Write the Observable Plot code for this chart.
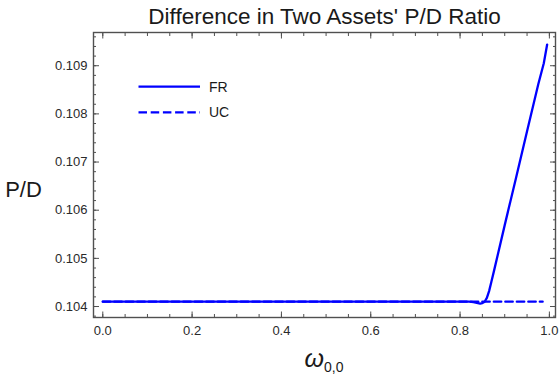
<!DOCTYPE html>
<html>
<head>
<meta charset="utf-8">
<script src="https://cdn.jsdelivr.net/npm/d3@7"></script>
<script src="https://cdn.jsdelivr.net/npm/@observablehq/plot@0.6"></script>
<style>
  html, body { margin: 0; padding: 0; background: #fff; }
  #chart { width: 560px; height: 376px; }
  svg { display: block; }
</style>
</head>
<body>
<div id="chart"></div>
<script>
// Price-dividend ratio of the two-asset economy vs. initial wealth share ω(0,0)
const omegaFR = [0, 0.1, 0.2, 0.3, 0.4, 0.5, 0.6, 0.7, 0.8, 0.82, 0.83, 0.84, 0.845, 0.85, 0.855, 0.86, 0.865, 0.87, 0.876, 0.9, 0.925, 0.95, 0.975, 0.9875, 0.995];
const pdFR    = [0.1041, 0.1041, 0.1041, 0.1041, 0.1041, 0.1041, 0.1041, 0.1041, 0.1041, 0.1041, 0.10409, 0.10407, 0.10406, 0.10407, 0.1041, 0.10418, 0.10432, 0.10451, 0.10474, 0.10569, 0.10666, 0.10764, 0.10861, 0.10905, 0.10944];

const omegaUC = [0, 0.2, 0.4, 0.6, 0.8, 0.985];
const pdUC    = [0.1041, 0.1041, 0.1041, 0.1041, 0.1041, 0.1041];

const xMajor = [0, 0.2, 0.4, 0.6, 0.8, 1.0];
const xMinor = d3.range(0, 1.001, 0.05);
const yMajor = [0.104, 0.105, 0.106, 0.107, 0.108, 0.109];
const yMinor = d3.range(0.1038, 0.10961, 0.0002);

const series = [
  {name: "FR", xs: omegaFR, ys: pdFR, dash: null},
  {name: "UC", xs: omegaUC, ys: pdUC, dash: "7.5,4"}
];

const rows = name => {
  const s = series.find(d => d.name === name);
  return s.xs.map((x, i) => ({omega: x, pd: s.ys[i]}));
};

const W = 560, H = 376;
const frameColor = "#505050";
const font = "'Liberation Sans', Arial, sans-serif";

const chart = Plot.plot({
  width: W,
  height: H,
  marginLeft: 93,
  marginRight: 5,
  marginTop: 32,
  marginBottom: 59,
  style: {fontFamily: font, fontSize: "13px", color: "#2a2a2a", background: "#fff"},
  x: {domain: [-0.0208, 1.0137]},
  y: {domain: [0.103772, 0.10969]},
  marks: [
    // inward ticks on all four sides
    Plot.axisX(xMinor, {anchor: "bottom", tickSize: -3, text: null, label: null, stroke: frameColor}),
    Plot.axisX(xMajor, {anchor: "bottom", tickSize: -5.5, tickPadding: 13.5, tickFormat: d3.format(".1f"), label: null, stroke: frameColor, fontSize: 13}),
    Plot.axisX(xMinor, {anchor: "top", tickSize: -3, text: null, label: null, stroke: frameColor}),
    Plot.axisX(xMajor, {anchor: "top", tickSize: -5.5, text: null, label: null, stroke: frameColor}),
    Plot.axisY(yMinor, {anchor: "left", tickSize: -3, text: null, label: null, stroke: frameColor}),
    Plot.axisY(yMajor, {anchor: "left", tickSize: -6, tickPadding: 12, tickFormat: d3.format(".3f"), label: null, stroke: frameColor, fontSize: 13}),
    Plot.axisY(yMinor, {anchor: "right", tickSize: -3, text: null, label: null, stroke: frameColor}),
    Plot.axisY(yMajor, {anchor: "right", tickSize: -6, text: null, label: null, stroke: frameColor}),
    Plot.frame({stroke: frameColor, strokeWidth: 1.4}),
    Plot.line(rows("FR"), {x: "omega", y: "pd", stroke: "#0000ff", strokeWidth: 2.3, strokeLinejoin: "round", clip: true}),
    Plot.line(rows("UC"), {x: "omega", y: "pd", stroke: "#0000ff", strokeWidth: 2.3, strokeDasharray: "7.5,4", clip: true}),
    Plot.text(["Difference in Two Assets' P/D Ratio"], {frameAnchor: "top", lineAnchor: "bottom", dy: -8.5, fontSize: 22.5, fill: "#1a1a1a"}),
    Plot.text(["P/D"], {frameAnchor: "left", textAnchor: "middle", dx: -70, dy: 15, fontSize: 22, fill: "#1a1a1a"})
  ]
});

// x-axis title with subscript, and the legend, in pixel space
const svg = d3.select(chart);
const xl = svg.append("text")
  .attr("x", 324).attr("y", 367)
  .attr("text-anchor", "middle")
  .attr("font-family", font)
  .attr("fill", "#1a1a1a");
xl.append("tspan").attr("font-size", 25).attr("font-style", "italic").text("ω");
xl.append("tspan").attr("font-size", 14).attr("dy", 4.5).text("0,0");

const legend = svg.append("g")
  .attr("font-family", font).attr("font-size", 14)
  .attr("fill", "#1a1a1a").attr("text-anchor", "start");
series.forEach((s, i) => {
  const y = 86.7 + i * 25.6;
  legend.append("line")
    .attr("x1", 138.5).attr("x2", 200).attr("y1", y).attr("y2", y)
    .attr("stroke", "#0000ff").attr("stroke-width", 2.2)
    .attr("stroke-dasharray", s.dash ? "8.5,3.7" : null);
  legend.append("text")
    .attr("x", 209).attr("y", y).attr("dy", "0.36em")
    .attr("text-anchor", "start")
    .text(s.name);
});

document.getElementById("chart").append(chart);
</script>
</body>
</html>
